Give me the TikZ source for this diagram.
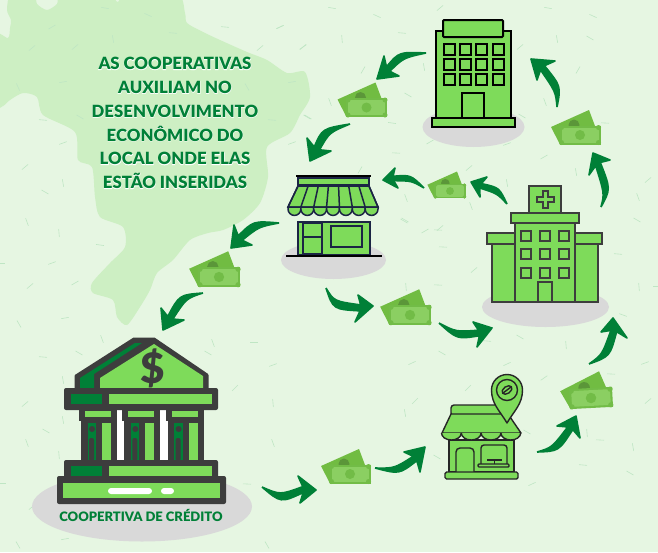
\documentclass[tikz,border=0pt]{standalone}
\usepackage{fontspec}
\setmainfont{Lato}
\newfontfamily\heavyfont{Lato Black}
\usetikzlibrary{calc}
\definecolor{paper}{HTML}{E6F6E2}
\definecolor{mapgreen}{HTML}{CDEFC3}
\definecolor{leaf}{HTML}{7EDB5A}
\definecolor{forest}{HTML}{008037}
\definecolor{coal}{HTML}{3D3D3D}
\definecolor{navy}{HTML}{1B2444}
\definecolor{groundgrey}{HTML}{D9D9D9}
\definecolor{speck}{HTML}{BFE6C4}
\definecolor{noteback}{HTML}{71BC42}
\definecolor{notefront}{HTML}{8BCF62}
\definecolor{notedark}{HTML}{72BC47}
% banknote: centre, scale, rotation
\newcommand{\money}[4]{
 \begin{scope}[shift={(#1,#2)},scale=#3,rotate=#4]
   \fill[noteback] (-29,-8) -- (9,-25) -- (15,-9) -- (-20,9.5) -- cycle;
   \fill[notedark!80!black] (-6,-10) circle (5.5);
   \fill[notedark] (-20.5,-9.5) rectangle (20.5,9.5);
   \fill[notefront] (-18.5,-7.5) rectangle (18.5,7.5);
   \fill[notedark] (0,0) circle (5);
   \foreach \sx in {-1,1}{\foreach \sy in {-1,1}{\fill[notedark] (\sx*18.5,\sy*7.5) circle (2.5);}}
 \end{scope}}
% curved arrow: tail, control, tip, barb, barb
\newcommand{\moneyarrow}[5]{
 \coordinate (tail) at (#1);
 \coordinate (tip) at (#3);
 \coordinate (barba) at (#4);
 \coordinate (barbb) at (#5);
 \coordinate (neck) at ($(barba)!.5!(barbb)!.3!(tip)$);
 \fill[forest,draw=forest,line width=1.6pt,line join=round]
   (tail) .. controls ($(#2)+.3*(barba)-.3*(neck)$) .. ($(neck)!.22!(barba)$) -- (barba) -- (tip) -- (barbb)
   -- ($(neck)!.22!(barbb)$) .. controls ($(#2)+.3*(barbb)-.3*(neck)$) .. (tail);
}
\begin{document}
\begin{tikzpicture}[x=1pt,y=1pt,yscale=-1]
  \useasboundingbox (0,0) rectangle (658,552);
  \fill[paper] (0,0) rectangle (658,552);
  % map
  \fill[mapgreen] plot[smooth cycle,tension=.45] coordinates {
    (-6,105) (3,106) (10,100) (23,93) (37,97) (43,115) (75,132) (78,160) (92,167) (95,197)
    (100,217) (123,227) (125,247) (110,263) (92,283) (93,293) (113,300) (117,317)
    (127,325) (140,307) (150,290) (157,273) (173,260) (190,240) (208,233) (223,230)
    (243,220) (260,203) (268,177) (267,147) (290,133) (300,115) (310,97) (305,72)
    (287,73) (267,60) (247,52) (220,40) (203,32) (187,23) (185,13) (177,-6)
    (125,-6) (118,2) (108,-4) (62,-6) (57,4) (47,10) (37,4) (34,-6) (11,-6) (7,10) (11,20)
    (10,28) (8,38) (-6,36)};
  % specks
  \foreach \x/\y/\a in {105/8/10,148/15/25,52/27/-30,113/39/80,173/33/5,32/48/-40,75/47/-40,225/27/5,280/27/-25,
    260/48/-40,303/47/-35,63/82/-10,18/87/65,80/117/30,43/120/5,247/87/60,292/82/-10,272/120/5,307/117/30,
    63/143/-20,25/167/-40,63/183/80,45/192/30,27/222/70,59/233/85,100/245/8,1/263/0,52/263/-20,30/286/-40,
    75/283/-30,65/318/-10,19/324/60,102/339/70,43/357/5,79/353/30,273/365/-20,213/343/70,208/353/30,254/342/0,
    235/388/-45,63/380/80,25/404/-40,63/420/80,46/431/30,27/443/70,2/483/0,59/455/85,273/403/85,273/443/70,
    247/484/3,32/507/-40,65/539/-10,18/545/60,267/545/60,332/8/10,377/16/25,280/27/-25,342/39/85,402/33/5,303/47/-40,
    440/8/-40,548/8/10,593/16/25,557/39/80,520/47/-40,590/38/30,424/67/80,363/70/-60,330/102/70,408/95/30,
    545/102/70,578/70/-60,605/123/3,308/117/30,392/123/8,522/116/30,430/142/-30,507/144/-20,292/143/-20,396/153/3,
    544/157/-30,360/170/-60,469/168/-40,507/183/80,576/172/80,406/198/70,471/206/70,404/221/30,443/247/3,440/228/-40,
    474/270/-40,406/287/85,438/285/3,648/180/-40,638/197/70,637/220/30,618/254/5,639/287/85,657/286/0,623/315/20,
    566/345/85,520/337/30,487/341/5,442/353/30,412/363/-25,507/364/-25,544/378/-35,611/374/3,645/363/-20,648/401/-40,
    600/440/3,633/447/80,587/433/85,438/230/3,405/220/30,425/231/-30,468/388/-45,415/401/-45,405/413/80,437/457/30,
    527/432/30,583/465/5,630/473/30,532/484/-25}
    \draw[speck,line width=.6pt,rotate around={\a:(\x,\y)}] (\x-4,\y) -- (\x+4,\y);
  % title
  \newcommand{\titletext}{\begin{tabular}{@{}c@{}}AS COOPERATIVAS\\AUXILIAM NO\\DESENVOLVIMENTO\\ECONÔMICO DO\\LOCAL ONDE ELAS\\ESTÃO INSERIDAS\end{tabular}}
  \tikzset{titlefont/.style={font=\fontsize{16.8}{23.8}\selectfont\heavyfont,inner sep=0pt}}
  \node[titlefont,white] (halo) at (175,124.5) {\addfontfeature{FakeBold=3}\titletext};
  \node[titlefont,forest] (title) at (175,124.5) {\titletext};

  % bank
  \fill[groundgrey] (142,506.5) circle[x radius=110,y radius=35];
  \fill[coal,draw=coal,line width=3pt,line join=round] (76,376) -- (134,339) -- (154,339) -- (207,375) -- (207,390) -- (76,390) -- cycle;
  \fill[leaf] (100,388) -- (100,378) -- (154,344) -- (203,376) -- (203,388) -- cycle;
  \fill[forest] (80,388) -- (80,378) -- (135,343) -- (142,343) -- (94,374) -- (94,388) -- cycle;
  \node[coal,font=\fontsize{42}{42}\selectfont\heavyfont,inner sep=0pt] (dollar) at (153,368.5) {\$};
  \fill[white] (117,408) rectangle (168,462);
  \foreach \c in {0,43.3,86.6}{
   \begin{scope}[xshift=\c pt]
    \fill[coal] (79,408) rectangle (117,421);
    \fill[coal] (81,420) rectangle (117,462);
    \fill[leaf] (85,411) rectangle (111,417);
    \fill[forest] (87.5,423) rectangle (96,460);
    \fill[coal] (92,429) circle (3);
    \fill[coal,rounded corners=2pt] (89,438) rectangle (94,461);
    \fill[leaf] (102,423) rectangle (111,460);
   \end{scope}}
  \fill[coal,rounded corners=2pt] (64,388) rectangle (218,410);
  \fill[forest] (71,394) rectangle (102,404);
  \fill[leaf] (109,394) rectangle (212,404);
  \fill[coal,rounded corners=2pt] (64,460) rectangle (218,482);
  \fill[forest] (71,466) rectangle (102,476);
  \fill[leaf] (109,466) rectangle (212,476);
  \fill[coal,rounded corners=2pt] (57,476) rectangle (226,504);
  \fill[leaf] (63,482.5) rectangle (220,498);
  \fill[white,rounded corners=3pt] (108,488) rectangle (152,494);
  \fill[white,rounded corners=3pt] (161,488) rectangle (174,494);
  \node[forest,font=\fontsize{13}{13}\selectfont\heavyfont,inner sep=0pt] (banklabel) at (141,515) {COOPERTIVA DE CRÉDITO};

  % office
  \fill[groundgrey] (473.5,127) circle[x radius=51,y radius=20];
  \begin{scope}[draw=black,fill=leaf,line width=2pt]
   \filldraw (436,31) rectangle (511,118);
   \filldraw[rounded corners=1pt] (443,20) rectangle (503,37);
   \foreach \wx in {443.5,460,476,492.5}{\foreach \wy in {44,59,74}{\filldraw (\wx,\wy) rectangle +(11,11);}}
   \filldraw (462,93) rectangle (484,118);
   \filldraw (432,118) rectangle (515,127);
  \end{scope}

  % shop with awning
  \fill[groundgrey] (333.5,260) circle[x radius=52.5,y radius=19];
  \begin{scope}[draw=navy,fill=leaf,line width=1.5pt]
   \filldraw (298,222) rectangle (370,255);
   \filldraw (303,223) rectangle (322,254);
   \draw (303,237) -- (322,237);
   \filldraw (331,226) rectangle (362,247);
   \filldraw (298,178) rectangle (369,185);
   \filldraw (298,186) -- (369,186) -- (378,207) -- (288,207) -- cycle;
   \foreach \n in {0,...,6}{
    \filldraw ({288+\n*12.86},207) -- ++(0,2) arc(180:0:6.43pt) -- ++(0,-2) -- cycle;
    \draw ({298+\n*10.14},186) -- ({288+\n*12.86},207);}
   \draw (369,186) -- (378,207);
  \end{scope}
  \draw[black,line width=2.5pt] (296,176) -- (371,176);
  \draw[black,line width=2pt] (286,255.5) -- (382,255.5);

  % hospital
  \fill[groundgrey] (545.5,307) circle[x radius=63.5,y radius=20];
  \begin{scope}[draw=coal,fill=leaf,line width=2pt]
   \filldraw (492,244) rectangle (598,302);
   \filldraw (487,233) rectangle (602,244);
   \filldraw (529,186) rectangle (561,213);
   \filldraw (515,223) rectangle (575,302);
   \filldraw (511,213) rectangle (579,223);
   \filldraw (542.5,191) -- ++(5,0) -- ++(0,6) -- ++(6,0) -- ++(0,5) -- ++(-6,0) -- ++(0,6) -- ++(-5,0) -- ++(0,-6) -- ++(-6,0) -- ++(0,-5) -- ++(6,0) -- cycle;
   \foreach \wx in {521,540,559}{\foreach \wy in {231,249,268}{\filldraw (\wx,\wy) rectangle +(10,10);}}
   \filldraw (538,282) rectangle (552,302);
  \end{scope}

  % small shop with pin
  \begin{scope}[draw=black!85,fill=leaf,line width=1.4pt,line join=round]
   \filldraw (449,440) rectangle (514,472);
   \filldraw[rounded corners=3pt] (451,416) -- (451,405) -- (505,405) -- (505,416) -- cycle;
   \filldraw (451,414) -- (508,414) -- (521,433) -- (442,433) -- cycle;
   \foreach \n in {0,...,3}{\filldraw ({441.5+\n*19.8},433) arc(180:0:9.9pt and 7pt);}
   \filldraw[rounded corners=4pt] (456,472) -- (456,448) -- (474,448) -- (474,472);
   \filldraw[rounded corners=3pt] (481,465) -- (481,445) -- (507,445) -- (507,465);
   \filldraw[rounded corners=1pt] (478,464) rectangle (509,467);
   \draw (487,460) -- (502,460) (494.5,460) -- (494.5,464);
   \filldraw[rounded corners=1.5pt] (445,472) rectangle (518,479);
   \filldraw (507,423) .. controls (500,411) and (491.5,404) .. (491.5,390) arc(180:360:15.5pt) .. controls (522.5,404) and (514,411) .. cycle;
   \draw (507,390) circle (10.5);
   \draw[rotate around={-35:(507,390)}] (507,390) circle[x radius=5.5,y radius=3.5];
   \draw (503,393) -- (511,387);
  \end{scope}

  % notes
  \money{366.5}{107.5}{1}{0}
  \money{580}{135}{1}{0}
  \money{450}{191}{.78}{0}
  \money{219}{277}{1.03}{0}
  \money{410}{315}{1.03}{0}
  \money{591}{398}{1.05}{-3}
  \money{350}{474}{1}{0}

  % arrows
  \moneyarrow{426,53}{400,56}{377,79}{384,56}{399,76}
  \moneyarrow{350,124}{325,132}{310,161}{307,138}{331,151}
  \moneyarrow{279,223}{255,225}{231,248}{234,225}{252,245}
  \moneyarrow{203,293}{182,298}{163,330}{161,308}{184,320}
  \moneyarrow{262,487}{282,499}{316,490}{298,476}{300,503}
  \moneyarrow{375,468}{398,470}{425,447}{404,452}{420,472}
  \moneyarrow{537,452}{556,448}{576,416}{557,426}{580,438}
  \moneyarrow{589,364}{606,354}{613,318}{601,332}{627,338}
  \moneyarrow{601,207}{607,190}{593,153}{589,175}{610,160}
  \moneyarrow{557,107}{557,88}{531,59}{555,61}{537,80}
  \moneyarrow{507,204}{497,190}{471,182}{487,177}{480,197}
  \moneyarrow{424,188}{410,178}{383,180}{395,168}{398,188}
  \moneyarrow{326,288}{335,305}{373,306}{358,295}{355,322}
  \moneyarrow{439,323}{458,335}{492,328}{473,322}{477,347}
\end{tikzpicture}
\end{document}
